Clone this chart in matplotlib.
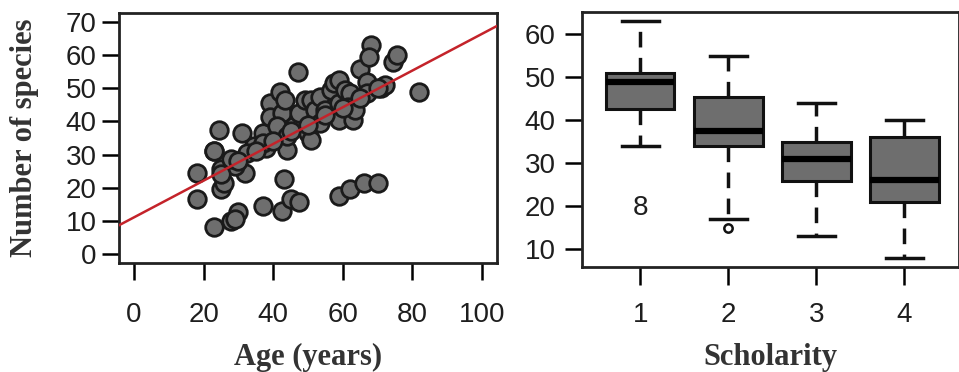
import matplotlib
matplotlib.use("Agg")
import matplotlib.pyplot as plt

# Scatter data: age (years) vs number of species
age = [18, 18, 23, 23, 24.5, 23, 25, 25, 26, 28, 30, 29, 31, 32, 29, 28, 34.5, 32.5,
       37, 37, 39, 39, 38, 37, 42, 42.5, 41, 43.5, 43, 42.5, 45, 47.5, 47, 44, 44,
       46, 47.5, 49, 50, 51, 51, 52, 53.5, 53.5, 55, 56.5, 57.5, 59, 59, 59, 60.5,
       62, 61.5, 63, 63.5, 65, 67, 67, 68, 67.5, 71, 72, 74.5, 75.5, 82, 59, 62,
       66, 70, 25, 30, 35, 40, 45, 50, 55, 60, 65, 70]
species = [24.5, 16.5, 8, 31, 37.5, 31, 25.5, 19.5, 21.5, 10, 12.5, 10.5, 36.5, 24.5,
           26.5, 28.5, 32.5, 30.5, 14.5, 36.5, 45.5, 41.5, 32, 33.5, 49, 42.5, 38.5,
           46.5, 22.5, 13, 16.5, 15.5, 55, 31.5, 35.5, 38.5, 42.5, 46.5, 36.5, 34.5,
           46.5, 43.5, 39.5, 47.5, 43.5, 49.5, 51.5, 52.5, 45.5, 40.5, 49.5, 48.5,
           44.5, 40.5, 43.5, 56, 52, 48.5, 63, 59.5, 50, 51, 58, 60, 49, 17.5, 19.5,
           21.5, 21.5, 24, 28, 31, 34, 37, 39, 42, 44, 47, 50]

# Fitted line
intercept = 11.0
slope = 0.555

# Box plot stats by scholarity level
levels = [1, 2, 3, 4]
whisk_lo = [34, 17, 13, 8]
q1 = [42.5, 34, 25.8, 21]
med = [49, 37.5, 31, 26]
q3 = [51, 45.3, 35, 36]
whisk_hi = [63, 55, 44, 40]
outliers = [[], [15], [], []]

W, H = 959, 372
fig = plt.figure(figsize=(W / 100, H / 100), dpi=100)

tick_font = dict(family="Liberation Sans", size=20, color="#1e1e1e")
lab_font = dict(family="Liberation Serif", size=22, weight="bold", color="#333333")

# ---- left: scatter ----
ax1 = fig.add_axes([119 / W, 1 - 263 / H, 378 / W, 250 / H])
ax1.scatter(age, species, s=160, facecolor="#6e6e6e", edgecolor="#1a1a1a",
            linewidth=2, zorder=2)
ax1.axline((0, intercept), slope=slope, color="#c4232a", lw=1.8, zorder=3)
ax1.set_xlim(-4.3, 104.3)
ax1.set_ylim(-2.8, 72.8)
ax1.set_xticks([0, 20, 40, 60, 80, 100])
ax1.set_yticks([0, 10, 20, 30, 40, 50, 60, 70])
ax1.tick_params(axis="y", length=12, width=1.8, pad=4)
ax1.tick_params(axis="x", length=12, width=1.8, pad=16)
for lab in ax1.get_xticklabels() + ax1.get_yticklabels():
    lab.set(**tick_font)
ax1.set_xlabel("Age (years)", labelpad=11, **lab_font)
ax1.set_ylabel("Number of species", labelpad=19, **lab_font)

# ---- right: box plot ----
ax2 = fig.add_axes([582 / W, 1 - 267 / H, 377 / W, 255 / H])
stats = []
for i in range(len(levels)):
    stats.append(dict(whislo=whisk_lo[i], q1=q1[i], med=med[i], q3=q3[i],
                      whishi=whisk_hi[i], fliers=outliers[i]))
ax2.bxp(stats, positions=levels, widths=0.78, capwidths=0.42, patch_artist=True,
        boxprops=dict(facecolor="#6e6e6e", edgecolor="#111111", linewidth=2.2),
        medianprops=dict(color="black", linewidth=4.5),
        whiskerprops=dict(color="#111111", linewidth=2.5, linestyle=(0, (4.5, 3))),
        capprops=dict(color="#111111", linewidth=2.5),
        flierprops=dict(marker="o", markersize=6, markerfacecolor="none",
                        markeredgecolor="#111111", markeredgewidth=1.8))
ax2.text(1, 19.5, "8", ha="center", va="center", **tick_font)
ax2.set_xlim(0.34, 4.62)
ax2.set_ylim(5.8, 65.2)
ax2.set_xticks(levels)
ax2.set_xticklabels([str(v) for v in levels])
ax2.set_yticks([10, 20, 30, 40, 50, 60])
ax2.tick_params(axis="y", length=12, width=1.8, pad=7)
ax2.tick_params(axis="x", length=13, width=1.8, pad=12)
for lab in ax2.get_xticklabels() + ax2.get_yticklabels():
    lab.set(**tick_font)
ax2.set_xlabel("Scholarity", labelpad=11, **lab_font)

for ax in (ax1, ax2):
    for sp in ax.spines.values():
        sp.set_linewidth(2)
        sp.set_color("#222222")

fig.savefig("out.png", dpi=100)
